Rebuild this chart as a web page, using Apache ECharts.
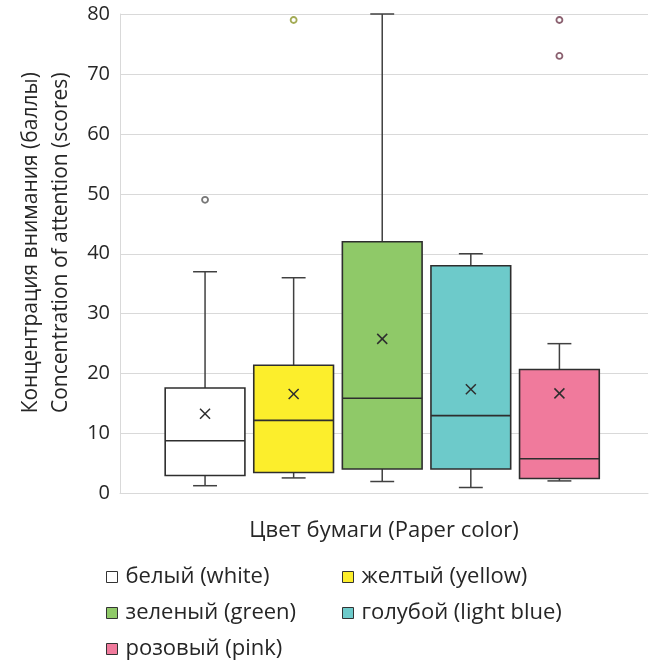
<!DOCTYPE html>
<html>
<head>
<meta charset="utf-8">
<script src="https://cdn.jsdelivr.net/npm/echarts@6/dist/echarts.min.js"></script>
<style>html,body{margin:0;padding:0;background:#fff}#c{width:652px;height:661px}</style>
</head>
<body>
<div id="c"></div>
<script>
// ---- data ----
const categories = ['белый (white)', 'желтый (yellow)', 'зеленый (green)', 'голубой (light blue)', 'розовый (pink)'];
const whiskerLow  = [1.3, 2.6, 2.0, 1.0, 2.1];
const q1          = [3.0, 3.5, 4.1, 4.1, 2.5];
const median      = [8.8, 12.2, 15.9, 13.0, 5.8];
const q3          = [17.6, 21.4, 42.0, 38.0, 20.7];
const whiskerHigh = [37, 36, 80, 40, 25];
const mean        = [13.3, 16.6, 25.8, 17.4, 16.7];
const outliers    = [[49], [79], [], [], [79, 73]];
const yTicks      = [0, 10, 20, 30, 40, 50, 60, 70, 80];

const fills   = ['#ffffff', '#fcee2c', '#8fc968', '#6dcaca', '#f07a9c'];
const rings   = ['#555555', '#8c962a', '#555555', '#555555', '#6e3a4c'];
const FONT = 'Open Sans';
const BOX_W = 0.9, CAP_W = 0.27;

function renderBox(params, api) {
  const x = api.value(0);
  const pLo = api.coord([x, api.value(1)]);
  const pQ1 = api.coord([x, api.value(2)]);
  const pMed = api.coord([x, api.value(3)]);
  const pQ3 = api.coord([x, api.value(4)]);
  const pHi = api.coord([x, api.value(5)]);
  const pMean = api.coord([x, api.value(6)]);
  const bw = api.size([BOX_W, 0])[0];
  const cw = api.size([CAP_W, 0])[0];
  const cx = pQ1[0];
  const whisk = {stroke: '#404040', lineWidth: 1.5};
  const edge = {stroke: '#2e2e2e', lineWidth: 1.6};
  const m = 5;
  return {
    type: 'group',
    children: [
      {type: 'line', shape: {x1: cx, y1: pQ3[1], x2: cx, y2: pHi[1]}, style: whisk},
      {type: 'line', shape: {x1: cx - cw / 2, y1: pHi[1], x2: cx + cw / 2, y2: pHi[1]}, style: whisk},
      {type: 'line', shape: {x1: cx, y1: pQ1[1], x2: cx, y2: pLo[1]}, style: whisk},
      {type: 'line', shape: {x1: cx - cw / 2, y1: pLo[1], x2: cx + cw / 2, y2: pLo[1]}, style: whisk},
      {type: 'rect', shape: {x: cx - bw / 2, y: pQ3[1], width: bw, height: pQ1[1] - pQ3[1]},
        style: {fill: api.visual('color'), stroke: '#2e2e2e', lineWidth: 1.6}},
      {type: 'line', shape: {x1: cx - bw / 2, y1: pMed[1], x2: cx + bw / 2, y2: pMed[1]}, style: edge},
      {type: 'line', shape: {x1: cx - m, y1: pMean[1] - m, x2: cx + m, y2: pMean[1] + m}, style: {stroke: '#2e2e2e', lineWidth: 1.5}},
      {type: 'line', shape: {x1: cx - m, y1: pMean[1] + m, x2: cx + m, y2: pMean[1] - m}, style: {stroke: '#2e2e2e', lineWidth: 1.5}}
    ]
  };
}

const series = [];
categories.forEach(function (name, i) {
  series.push({
    type: 'custom',
    name: name,
    renderItem: renderBox,
    itemStyle: {color: fills[i], borderColor: '#333', borderWidth: 1},
    encode: {x: 0, y: [1, 2, 3, 4, 5, 6]},
    data: [[i, whiskerLow[i], q1[i], median[i], q3[i], whiskerHigh[i], mean[i]]],
    z: 2
  });
});
categories.forEach(function (name, i) {
  if (!outliers[i].length) return;
  series.push({
    type: 'scatter',
    name: name,
    symbol: 'circle',
    symbolSize: 6,
    itemStyle: {color: '#ffffff', borderColor: rings[i], borderWidth: 1.8},
    data: outliers[i].map(function (v) { return [i, v]; }),
    z: 3
  });
});

// legend slots: [left, top] for each category
const legendPos = [[106, 566], [342, 566], [106, 602], [342, 602], [106, 638]];
const legends = categories.map(function (name, i) {
  return {
    orient: 'horizontal',
    icon: 'rect',
    itemWidth: 11,
    itemHeight: 11,
    left: legendPos[i][0],
    top: legendPos[i][1],
    padding: 0,
    itemStyle: {borderColor: '#333', borderWidth: 1},
    textStyle: {fontFamily: FONT, fontSize: 22, color: '#262626', lineHeight: 22, padding: [0, 0, 0, 3]},
    selectedMode: false,
    data: [name]
  };
});

const chart = echarts.init(document.getElementById('c'), null, {renderer: 'canvas'});
chart.setOption({
  animation: false,
  backgroundColor: '#ffffff',
  grid: {left: 120, right: 4, top: 14, bottom: 167.5, outerBoundsMode: 'none', containLabel: false},
  xAxis: {
    type: 'value',
    min: -0.96,
    max: 5.0,
    name: 'Цвет бумаги (Paper color)',
    nameLocation: 'middle',
    nameGap: 26,
    nameTextStyle: {fontFamily: FONT, fontSize: 22, color: '#262626'},
    axisLine: {show: true, onZero: false, lineStyle: {color: '#d9d9d9', width: 1}},
    axisTick: {show: false},
    axisLabel: {show: false},
    splitLine: {show: false}
  },
  yAxis: {
    type: 'value',
    min: yTicks[0],
    max: yTicks[yTicks.length - 1],
    interval: yTicks[1] - yTicks[0],
    name: 'Концентрация внимания (баллы)\nConcentration of attention (scores)',
    nameLocation: 'middle',
    nameRotate: 90,
    nameGap: 39,
    nameTextStyle: {fontFamily: FONT, fontSize: 21, color: '#262626', lineHeight: 30, padding: [0, 0, 0, 22]},
    axisLine: {show: true, onZero: false, lineStyle: {color: '#d9d9d9', width: 1}},
    axisTick: {show: false},
    axisLabel: {fontFamily: FONT, fontSize: 20, color: '#262626', margin: 10},
    splitLine: {show: true, lineStyle: {color: '#d9d9d9', width: 1}}
  },
  legend: legends,
  series: series
});
</script>
</body>
</html>
